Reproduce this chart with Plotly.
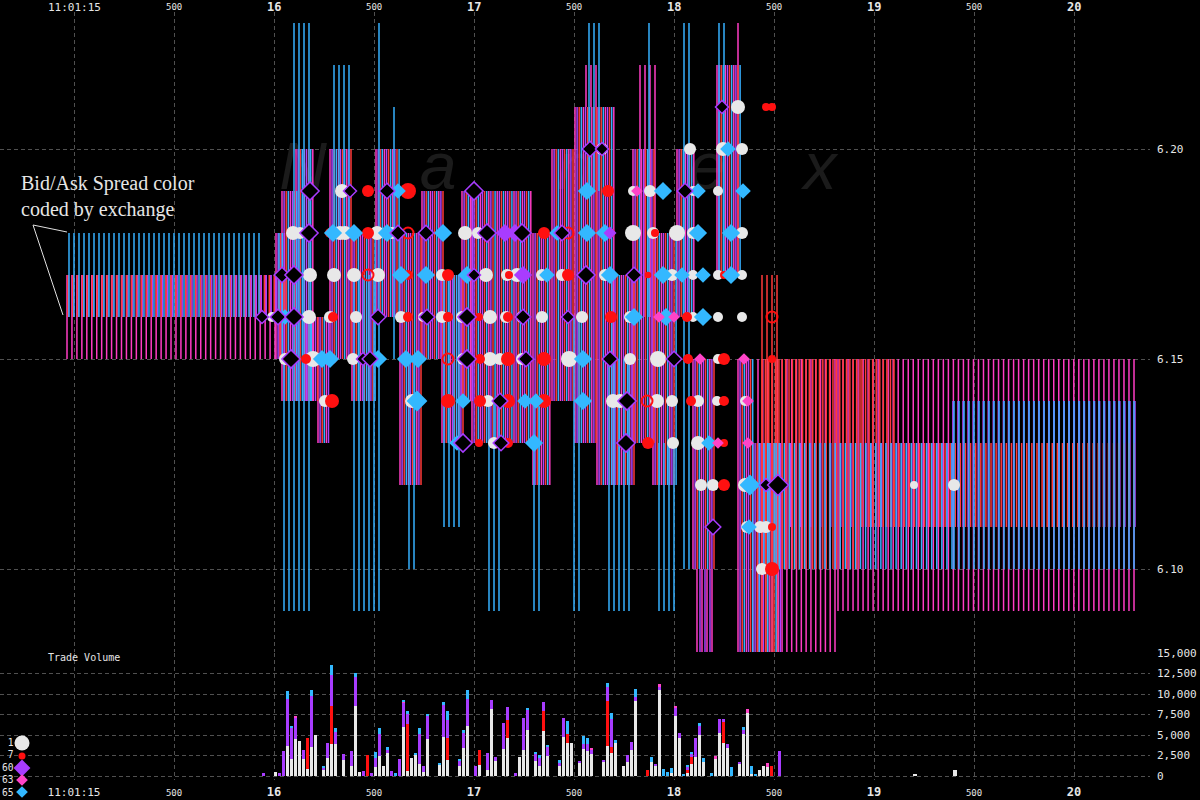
import math
import plotly.graph_objects as go

W, H = 1200, 800
T_MIN, T_MAX = 14.63, 20.38
P_MIN, P_MAX = 6.08024, 6.23262
VOL_MIN, VOL_MAX = -488, 15000

# ---------------- exchanges ----------------
EXCHANGES = [1, 7, 60, 63, 65]
EX_MARK_COLOR = {1: '#e8e8e8', 7: '#ff1010', 60: '#a83cff', 63: '#ff44c8', 65: '#33b8ff'}
EX_LINE_COLOR = {1: '#c8c8c8', 7: '#ff3a3a', 60: '#ac44ff', 63: '#ff3cc4', 65: '#36b0ff'}

# ---------------- regular quote streams (exchange, first/last time, count, bid, ask) ----------------
STREAM_EXCH = [65, 63, 60, 7, 65, 63, 63, 7, 7, 7, 60, 60, 65, 65]
STREAM_T0 = [14.975, 14.965, 14.972, 14.969, 16.025, 18.42, 18.82, 18.44, 18.94, 19.10, 18.43, 19.395, 18.45, 19.40]
STREAM_T1 = [15.925, 16.03, 16.06, 16.05, 16.025, 18.805, 20.30, 18.93, 19.10, 20.30, 19.39, 20.305, 19.39, 20.30]
STREAM_N = [39, 44, 45, 45, 1, 17, 60, 30, 10, 48, 39, 37, 38, 37]
STREAM_BID = [6.16, 6.15, 6.16, 6.16, 6.16, 6.08, 6.09, 6.10, 6.11, 6.11, 6.11, 6.11, 6.10, 6.10]
STREAM_ASK = [6.18, 6.17, 6.17, 6.17, 6.18, 6.15, 6.15, 6.15, 6.15, 6.13, 6.13, 6.14, 6.13, 6.14]

# ---------------- busy quote clusters (time span, low, high) ----------------
CL_T0 = [16.01, 16.04, 16.11, 16.155, 16.22, 16.28, 16.39, 16.51, 16.63, 16.74, 16.84, 16.94, 16.99,
         17.295, 17.39, 17.505, 17.615, 17.695, 17.795, 17.895, 18.015, 18.095, 18.215, 18.32, 18.395]
CL_T1 = [16.05, 16.11, 16.19, 16.22, 16.27, 16.39, 16.51, 16.63, 16.74, 16.84, 16.94, 16.99, 17.28,
         17.38, 17.495, 17.615, 17.695, 17.795, 17.895, 18.015, 18.095, 18.195, 18.33, 18.395, 18.53]
CL_LO = [6.15, 6.14, 6.14, 6.14, 6.13, 6.15, 6.14, 6.16, 6.12, 6.15, 6.13, 6.14, 6.13,
         6.12, 6.14, 6.13, 6.12, 6.12, 6.13, 6.12, 6.16, 6.10, 6.17, 6.08, 6.08]
CL_HI = [6.18, 6.19, 6.20, 6.16, 6.16, 6.20, 6.18, 6.20, 6.18, 6.19, 6.17, 6.19, 6.19,
         6.18, 6.20, 6.21, 6.21, 6.17, 6.20, 6.18, 6.20, 6.15, 6.22, 6.15, 6.13]
CL_CYCLE = [63, 60, 7, 65]

# ---------------- individual long quotes ----------------
TALL_EXCH = [65, 65, 65, 65, 65, 65, 65, 65, 65, 65, 65, 65, 65, 65, 65, 65, 65, 65, 65, 65,
             65, 65, 65, 65, 65, 65, 65, 65, 65, 65, 65, 65, 65, 65, 65, 65, 65, 65, 65, 65,
             65, 65, 65, 65, 65, 65, 65, 63, 63, 63, 63, 63, 63, 63, 63, 7, 7, 7, 7,
             63, 63, 63, 63, 60, 60, 60]
TALL_T = [16.10, 16.125, 16.15, 16.175, 16.05, 16.075, 16.30, 16.325, 16.35, 16.375,
          16.40, 16.425, 16.45, 16.475, 16.50, 16.525, 16.60, 16.675, 16.70, 16.85,
          16.875, 16.90, 16.925, 17.075, 17.10, 17.125, 17.30, 17.325, 17.50, 17.525,
          17.575, 17.60, 17.625, 17.675, 17.70, 17.725, 17.75, 17.775, 17.875, 17.925,
          17.95, 17.975, 18.00, 18.05, 18.075, 18.225, 18.25, 18.32, 17.56, 17.585, 17.61,
          17.83, 17.855, 17.88, 17.905, 18.44, 18.465, 18.49, 18.515,
          18.115, 18.14, 18.165, 18.19, 18.13, 18.155, 18.18]
TALL_LO = [6.09, 6.09, 6.09, 6.09, 6.09, 6.09, 6.18, 6.18, 6.18, 6.18,
           6.09, 6.09, 6.09, 6.09, 6.09, 6.09, 6.15, 6.10, 6.10, 6.11,
           6.11, 6.11, 6.11, 6.09, 6.09, 6.09, 6.09, 6.09, 6.09, 6.09,
           6.19, 6.19, 6.19, 6.09, 6.09, 6.09, 6.09, 6.09, 6.16, 6.09,
           6.09, 6.09, 6.09, 6.10, 6.10, 6.17, 6.17, 6.17, 6.21, 6.21, 6.21,
           6.16, 6.16, 6.16, 6.16, 6.08, 6.08, 6.08, 6.08,
           6.08, 6.08, 6.08, 6.08, 6.08, 6.08, 6.08]
TALL_HI = [6.23, 6.23, 6.23, 6.23, 6.15, 6.15, 6.22, 6.22, 6.22, 6.22,
           6.17, 6.17, 6.17, 6.17, 6.17, 6.23, 6.21, 6.15, 6.15, 6.17,
           6.17, 6.17, 6.17, 6.14, 6.14, 6.14, 6.14, 6.14, 6.16, 6.16,
           6.23, 6.23, 6.23, 6.15, 6.15, 6.15, 6.15, 6.15, 6.23, 6.13,
           6.13, 6.13, 6.13, 6.23, 6.23, 6.23, 6.23, 6.23, 6.22, 6.22, 6.22,
           6.22, 6.22, 6.22, 6.22, 6.17, 6.17, 6.17, 6.17,
           6.10, 6.10, 6.10, 6.10, 6.10, 6.10, 6.10]

# ---------------- trades (time, price, shares) ----------------
EX1_T = [18.32, 17.58, 17.64, 18.08, 18.245, 18.34, 16.34, 17.795, 17.88, 18.095, 18.22,
         16.095, 16.13, 16.33, 16.355, 16.515, 16.59, 16.76, 16.955, 17.02, 17.795, 17.895, 18.015, 18.095, 18.34,
         16.18, 16.30, 16.40, 16.52, 16.84, 17.06, 17.165, 17.215, 17.34, 17.44, 17.655, 17.99, 18.095, 18.22, 18.34,
         15.99, 16.175, 16.28, 16.41, 16.635, 16.745, 16.84, 16.94, 17.08, 17.16, 17.24, 17.34, 17.54, 17.78, 18.095, 18.22, 18.34,
         16.055, 16.195, 16.395, 16.945, 17.08, 17.13, 17.24, 17.475, 17.78, 17.92, 18.22,
         16.255, 16.69, 17.07, 17.695, 17.73, 17.765, 17.915, 17.99, 18.12, 18.215, 18.355,
         17.10, 17.995, 18.12, 18.135, 18.195, 18.355, 19.20, 19.40,
         18.195, 18.365, 18.43, 18.46, 18.44]
EX1_P = [6.21, 6.20, 6.20, 6.20, 6.20, 6.20, 6.19, 6.19, 6.19, 6.19, 6.19,
         6.18, 6.18, 6.18, 6.18, 6.18, 6.18, 6.18, 6.18, 6.18, 6.18, 6.18, 6.18, 6.18, 6.18,
         6.17, 6.17, 6.17, 6.17, 6.17, 6.17, 6.17, 6.17, 6.17, 6.17, 6.17, 6.17, 6.17, 6.17, 6.17,
         6.16, 6.16, 6.16, 6.16, 6.16, 6.16, 6.16, 6.16, 6.16, 6.16, 6.16, 6.16, 6.16, 6.16, 6.16, 6.16, 6.16,
         6.15, 6.15, 6.15, 6.15, 6.15, 6.15, 6.15, 6.15, 6.15, 6.15, 6.15,
         6.14, 6.14, 6.14, 6.14, 6.14, 6.14, 6.14, 6.14, 6.14, 6.14, 6.14,
         6.13, 6.13, 6.13, 6.12, 6.12, 6.12, 6.12, 6.12,
         6.11, 6.11, 6.11, 6.11, 6.10]
EX1_S = [1600, 900, 900, 900, 1600, 900, 1600, 400, 900, 400, 400,
         1600, 900, 1600, 1600, 1600, 900, 900, 1600, 900, 2500, 900, 2500, 900, 900,
         1600, 1600, 1600, 1600, 900, 1600, 900, 1600, 900, 900, 900, 900, 400, 400, 400,
         400, 1600, 900, 900, 900, 400, 900, 900, 1600, 900, 900, 900, 900, 900, 400, 400, 400,
         900, 2500, 900, 900, 1600, 900, 900, 2500, 900, 2500, 400,
         900, 1600, 900, 1600, 1600, 1600, 1600, 900, 900, 400, 400,
         900, 900, 1600, 900, 900, 1600, 100, 900,
         400, 900, 900, 900, 900]

EX7_T = [18.46, 18.49, 16.47, 16.67, 17.67, 16.28, 16.47, 17.35, 17.685, 17.905,
         16.67, 16.87, 17.175, 17.47, 17.87, 18.25,
         16.295, 16.67, 16.87, 17.025, 17.17, 17.685, 18.065,
         16.16, 16.29, 17.03, 17.17, 17.35, 18.07, 18.25, 18.49,
         16.29, 16.87, 17.03, 17.17, 17.35, 18.085, 18.25,
         17.025, 17.17, 17.87, 18.25, 18.25, 18.49, 18.49]
EX7_P = [6.21, 6.21, 6.19, 6.19, 6.19, 6.18, 6.18, 6.18, 6.18, 6.18,
         6.17, 6.17, 6.17, 6.17, 6.17, 6.17,
         6.16, 6.16, 6.16, 6.16, 6.16, 6.16, 6.16,
         6.15, 6.15, 6.15, 6.15, 6.15, 6.15, 6.15, 6.15,
         6.14, 6.14, 6.14, 6.14, 6.14, 6.14, 6.14,
         6.13, 6.13, 6.13, 6.13, 6.12, 6.11, 6.10]
EX7_S = [100, 100, 900, 2500, 900, 400, 900, 900, 100, 100,
         400, 900, 100, 900, 10, 100,
         400, 400, 400, 100, 400, 900, 400,
         400, 400, 400, 1600, 1600, 400, 900, 100,
         1600, 1600, 900, 1600, 1600, 400, 400,
         100, 400, 900, 100, 900, 100, 1600]

EX7H_T = [16.67, 17.47, 16.47, 16.87, 17.865, 18.49]
EX7H_P = [6.18, 6.18, 6.17, 6.15, 6.14, 6.16]

EX65_T = [18.27, 16.62, 17.565, 17.945, 18.12, 18.345,
          16.295, 16.40, 16.565, 16.845, 17.415, 17.565, 17.655, 18.12, 18.285,
          16.635, 16.76, 16.965, 17.365, 17.68, 17.945, 18.04, 18.145, 18.285,
          16.055, 17.80, 17.96, 18.145,
          16.24, 16.28, 16.52, 16.66, 16.72, 17.545,
          16.715, 16.945, 17.255, 17.31, 17.545,
          16.915, 17.30, 18.175, 18.38, 18.375]
EX65_P = [6.20, 6.19, 6.19, 6.19, 6.19, 6.19,
          6.18, 6.18, 6.18, 6.18, 6.18, 6.18, 6.18, 6.18, 6.18,
          6.17, 6.17, 6.17, 6.17, 6.17, 6.17, 6.17, 6.17, 6.17,
          6.16, 6.16, 6.16, 6.16,
          6.15, 6.15, 6.15, 6.15, 6.15, 6.15,
          6.14, 6.14, 6.14, 6.14, 6.14,
          6.13, 6.13, 6.13, 6.12, 6.11]
EX65_S = [400, 400, 900, 900, 400, 400,
          900, 900, 900, 900, 400, 900, 900, 900, 900,
          900, 900, 900, 400, 900, 900, 400, 400, 900,
          400, 900, 900, 900,
          900, 900, 900, 900, 900, 900,
          1600, 400, 400, 400, 900,
          400, 900, 400, 1600, 400]

EX63_T = [17.815, 17.925, 18.00, 18.13, 18.35, 18.37, 18.22, 18.37]
EX63_P = [6.19, 6.16, 6.16, 6.15, 6.15, 6.14, 6.13, 6.13]

EX60_T = [17.155, 17.205, 17.68, 17.245]
EX60_P = [6.18, 6.18, 6.18, 6.17]
EX60_S = [900, 900, 100, 900]

EX60D_T = [16.18, 16.38, 16.565, 17.00, 18.055, 18.24,
           16.175, 16.76, 17.065, 17.24, 17.44, 16.62,
           16.04, 16.10, 17.00, 17.80, 17.56,
           15.94, 16.02, 16.10, 16.52, 16.765, 16.965, 17.245, 17.47,
           16.085, 16.445, 16.48, 16.965, 17.26, 17.68, 18.00,
           17.13, 17.765, 16.945, 17.135, 17.76,
           18.46, 18.52, 18.195, 17.58, 17.64]
EX60D_P = [6.19, 6.19, 6.19, 6.19, 6.19, 6.21,
           6.18, 6.18, 6.18, 6.18, 6.18, 6.18,
           6.17, 6.17, 6.17, 6.17, 6.17,
           6.16, 6.16, 6.16, 6.16, 6.16, 6.16, 6.16, 6.16,
           6.15, 6.15, 6.15, 6.15, 6.15, 6.15, 6.15,
           6.14, 6.14, 6.13, 6.13, 6.13,
           6.12, 6.12, 6.11, 6.20, 6.20]
EX60D_S = [900, 100, 400, 900, 400, 100,
           900, 400, 900, 900, 400, 400,
           400, 900, 100, 400, 900,
           100, 400, 900, 400, 400, 900, 400, 100,
           900, 100, 400, 900, 400, 400, 400,
           400, 900, 900, 400, 900,
           100, 1600, 400, 400, 100]

# ---------------- trade volume per 20 ms bucket ----------------
VOL_T = [15.947, 16.007, 16.027, 16.047, 16.067, 16.087, 16.107, 16.127, 16.147, 16.167, 16.187, 16.207,
         16.247, 16.267, 16.287, 16.307, 16.347, 16.387, 16.407, 16.427, 16.447, 16.467, 16.487, 16.507,
         16.527, 16.547, 16.567, 16.587, 16.607, 16.627, 16.647, 16.667, 16.687, 16.707, 16.727, 16.747,
         16.767, 16.827, 16.847, 16.867, 16.927, 16.947, 16.967, 17.007, 17.027, 17.067, 17.087, 17.107,
         17.147, 17.167, 17.207, 17.227, 17.247, 17.267, 17.307, 17.327, 17.347, 17.367, 17.427, 17.447,
         17.467, 17.487, 17.527, 17.547, 17.567, 17.587, 17.647, 17.667, 17.687, 17.707, 17.747, 17.767,
         17.787, 17.807, 17.867, 17.887, 17.907, 17.927, 17.947, 17.967, 17.987, 18.007, 18.027, 18.047,
         18.067, 18.087, 18.107, 18.127, 18.147, 18.187, 18.207, 18.227, 18.247, 18.267, 18.287, 18.327,
         18.347, 18.367, 18.387, 18.407, 18.427, 18.447, 18.467, 18.487, 18.527, 19.205, 19.405]
VOL_1 = [0, 440, 0, 0, 3670, 2110, 4510, 4270, 2110, 800, 3550, 4990,
         800, 2230, 3910, 3910, 2000, 1160, 8580, 440, 0, 0, 100, 1040,
         2470, 1160, 2830, 0, 100, 0, 5950, 560, 2230, 2590, 1520, 440,
         4510, 1400, 4750, 2000, 1160, 3430, 6070, 0, 1400, 680, 8220, 1880,
         3310, 4630, 0, 2350, 3190, 5590, 1880, 1280, 5470, 2470, 1160, 4750,
         4030, 4030, 1640, 3310, 3070, 2710, 1760, 3670, 2830, 4030, 1160, 1760,
         3190, 9180, 0, 1760, 1160, 10490, 0, 0, 320, 7260, 4630, 0,
         320, 1520, 2350, 4990, 1760, 0, 2110, 5230, 4030, 3430, 0, 1520,
         5110, 7740, 200, 0, 680, 1160, 1040, 0, 0, 200, 700]
VOL_7 = [0, 0, 0, 0, 0, 0, 0, 0, 0, 3830, 0, 0,
         0, 0, 4670, 0, 0, 0, 0, 0, 0, 2590, 0, 0,
         0, 0, 0, 0, 0, 0, 0, 5740, 0, 0, 0, 0,
         0, 0, 0, 2630, 0, 0, 0, 0, 1790, 0, 0, 0,
         0, 2150, 0, 0, 0, 0, 0, 0, 2510, 0, 0, 0,
         1080, 0, 0, 0, 0, 0, 0, 5510, 720, 0, 0, 0,
         0, 0, 680, 0, 0, 0, 0, 0, 0, 0, 0, 0,
         360, 830, 0, 0, 0, 0, 0, 0, 2510, 0, 0, 0,
         0, 0, 0, 0, 0, 0, 0, 1280, 0, 0, 0]
VOL_60 = [320, 0, 320, 3070, 5750, 3750, 2670, 0, 1080, 0, 6230, 0,
          240, 1800, 3710, 1440, 710, 1910, 3470, 0, 560, 0, 220, 1190,
          2640, 0, 360, 560, 0, 2110, 2990, 1320, 0, 0, 3590, 720,
          2750, 0, 3950, 2150, 720, 1800, 3350, 1160, 0, 2150, 1080, 470,
          3110, 1680, 320, 0, 3830, 2510, 830, 950, 1080, 1080, 480, 2270,
          0, 0, 120, 600, 840, 480, 120, 1670, 3350, 0, 0, 830,
          960, 480, 0, 0, 360, 480, 0, 0, 0, 1080, 600, 0,
          480, 360, 2280, 1080, 0, 100, 0, 1670, 360, 480, 0, 240,
          600, 0, 0, 0, 0, 0, 0, 0, 3070, 0, 0]
VOL_63 = [0, 0, 0, 0, 0, 0, 120, 0, 0, 0, 0, 0,
          0, 0, 0, 0, 0, 0, 0, 0, 0, 0, 0, 0,
          0, 0, 0, 0, 0, 0, 120, 0, 0, 0, 0, 0,
          0, 0, 0, 0, 0, 0, 0, 0, 0, 0, 0, 0,
          0, 0, 0, 0, 0, 0, 0, 0, 0, 0, 0, 0,
          0, 0, 0, 0, 0, 240, 0, 0, 0, 0, 0, 0,
          0, 0, 0, 0, 0, 240, 0, 0, 0, 240, 0, 0,
          0, 0, 0, 0, 0, 0, 360, 0, 0, 0, 0, 0,
          0, 480, 0, 0, 0, 0, 600, 0, 0, 0, 0]
VOL_65 = [0, 0, 0, 0, 950, 240, 0, 0, 0, 0, 710, 0,
          120, 0, 1200, 480, 0, 0, 480, 0, 0, 0, 0, 720,
          720, 0, 360, 0, 220, 0, 240, 360, 0, 120, 720, 0,
          360, 240, 360, 1200, 230, 360, 1070, 0, 0, 0, 0, 0,
          0, 0, 0, 0, 0, 240, 120, 360, 0, 120, 360, 0,
          1550, 0, 0, 960, 720, 0, 0, 480, 840, 360, 0, 0,
          0, 950, 0, 590, 0, 0, 800, 440, 600, 0, 0, 200,
          120, 120, 0, 350, 470, 220, 0, 0, 0, 0, 1040, 0,
          240, 0, 960, 200, 0, 0, 0, 0, 0, 0, 0]

# ---------------- axis labels ----------------
X_TICKS = [15.0, 15.5, 16.0, 16.5, 17.0, 17.5, 18.0, 18.5, 19.0, 19.5, 20.0]
X_TICK_TEXT = ["11:01:15", "500", "16", "500", "17", "500", "18", "500", "19", "500", "20"]
P_TICKS = [6.10, 6.15, 6.20]
V_TICKS = [0, 2500, 5000, 7500, 10000, 12500, 15000]

WM_TEXT = ["N", "a", "n", "e", "x"]
WM_T = [16.145, 16.82, 17.505, 18.165, 18.73]
WM_P = [6.1945, 6.1945, 6.1945, 6.1945, 6.1945]

LEGEND_LABELS = ["1", "7", "60", "63", "65"]

# ======================================================================
MONO = "DejaVu Sans Mono"
TXT = "#e6e6e6"
GRID = "#505050"


def px_x(px):
    return px / W


def px_y(py):
    return 1 - py / H


def msize(shares):
    return 6 + 2 * math.sqrt(max(shares, 0) / 100.0)


fig = go.Figure()

# watermark (beneath everything)
fig.add_trace(go.Scatter(x=WM_T, y=WM_P, mode="text", text=WM_TEXT,
                         textfont=dict(family="Liberation Sans", size=66, color="#1b1b1b", style="italic"),
                         hoverinfo="skip", showlegend=False, xaxis="x", yaxis="y"))

# quote lines
seg = {e: ([], []) for e in EXCHANGES}


def add_seg(e, t, lo, hi):
    xs, ys = seg[e]
    xs += [t, t, None]
    ys += [lo, hi, None]


for e, t0, t1, n, b, a in zip(STREAM_EXCH, STREAM_T0, STREAM_T1, STREAM_N, STREAM_BID, STREAM_ASK):
    for k in range(n):
        t = t0 if n == 1 else t0 + (t1 - t0) * k / (n - 1)
        add_seg(e, t, b, a)

STEP = 0.0105
for t0, t1, lo, hi in zip(CL_T0, CL_T1, CL_LO, CL_HI):
    n = int(round((t1 - t0) / STEP)) + 1
    for k in range(n):
        add_seg(CL_CYCLE[k % 4], t0 + k * STEP, lo, hi)

for e, t, lo, hi in zip(TALL_EXCH, TALL_T, TALL_LO, TALL_HI):
    add_seg(e, t, lo, hi)

for e in [63, 60, 7, 65]:
    xs, ys = seg[e]
    fig.add_trace(go.Scatter(x=xs, y=ys, mode="lines", line=dict(color=EX_LINE_COLOR[e], width=1.5),
                             hoverinfo="skip", showlegend=False, xaxis="x", yaxis="y"))


# trades
def add_markers(ts, ps, sizes, symbol, color, lcolor=None, lwidth=0, xa="x", ya="y"):
    fig.add_trace(go.Scatter(x=ts, y=ps, mode="markers",
                             marker=dict(symbol=symbol, size=sizes, color=color, opacity=1,
                                         line=dict(color=lcolor or color, width=lwidth)),
                             hoverinfo="skip", showlegend=False, xaxis=xa, yaxis=ya))


add_markers(EX1_T, EX1_P, [msize(s) for s in EX1_S], "circle", EX_MARK_COLOR[1])
add_markers(EX7_T, EX7_P, [msize(s) for s in EX7_S], "circle", EX_MARK_COLOR[7])
add_markers(EX7H_T, EX7H_P, 11, "circle-open", EX_MARK_COLOR[7], EX_MARK_COLOR[7], 2)
add_markers(EX65_T, EX65_P, [msize(s) + 2 for s in EX65_S], "diamond", EX_MARK_COLOR[65])
add_markers(EX63_T, EX63_P, 9, "diamond", EX_MARK_COLOR[63])
add_markers(EX60_T, EX60_P, [msize(s) + 2 for s in EX60_S], "diamond", EX_MARK_COLOR[60])
add_markers(EX60D_T, EX60D_P, [msize(s) + 2 for s in EX60D_S], "diamond", "#000000", EX_MARK_COLOR[60], 1.5)

# volume bars (stacked by exchange)
for e, vals in zip(EXCHANGES, [VOL_1, VOL_7, VOL_60, VOL_63, VOL_65]):
    fig.add_trace(go.Bar(x=VOL_T, y=vals, width=0.0155, marker=dict(color=EX_MARK_COLOR[e], line=dict(width=0)),
                         hoverinfo="skip", showlegend=False, xaxis="x2", yaxis="y2"))

# exchange key symbols (figure-pixel overlay axis)
KEY_SYMBOLS = ["circle", "circle", "diamond", "diamond", "diamond"]
KEY_SIZES = [15, 7, 13, 9, 9]
key_rows = [743, 756, 768, 780, 792]
fig.add_trace(go.Scatter(x=[22] * 5, y=key_rows, mode="markers",
                         marker=dict(symbol=KEY_SYMBOLS, size=KEY_SIZES, opacity=1,
                                     color=[EX_MARK_COLOR[e] for e in EXCHANGES], line=dict(width=0)),
                         hoverinfo="skip", showlegend=False, xaxis="x3", yaxis="y3"))


def xtick_html(s):
    if s == "500":
        return "<span style='font-size:9px'>500</span>"
    if ":" in s:
        return s
    return "<b><span style='font-size:12px'>" + s + "</span></b>"


x_ticktext = [xtick_html(s) for s in X_TICK_TEXT]

axis_common = dict(showgrid=True, gridcolor=GRID, griddash="4px,3px", gridwidth=1, zeroline=False,
                   showline=False, ticks="", tickfont=dict(family=MONO, size=11, color=TXT), automargin=False)

x_dom = [0, 1150 / W]
fig.update_layout(
    width=W, height=H,
    margin=dict(l=0, r=0, t=0, b=0),
    paper_bgcolor="#000000", plot_bgcolor="rgba(0,0,0,0)",
    barmode="stack", bargap=0,
    showlegend=False,
    xaxis=dict(domain=x_dom, range=[T_MIN, T_MAX], side="top", anchor="y",
               tickmode="array", tickvals=X_TICKS, showticklabels=False, **axis_common),
    yaxis=dict(domain=[px_y(652), px_y(12)], range=[P_MIN, P_MAX], side="right", anchor="x",
               tickmode="array", tickvals=P_TICKS, ticktext=["%.2f" % p for p in P_TICKS],
               ticklabelstandoff=6, **axis_common),
    xaxis2=dict(domain=x_dom, range=[T_MIN, T_MAX], side="bottom", anchor="y2", matches="x",
                tickmode="array", tickvals=X_TICKS, ticktext=x_ticktext, ticklabelstandoff=4, **axis_common),
    yaxis2=dict(domain=[px_y(780), px_y(653)], range=[VOL_MIN, VOL_MAX], side="right", anchor="x2",
                tickmode="array", tickvals=V_TICKS, ticktext=["{:,}".format(v) for v in V_TICKS],
                ticklabelstandoff=6, **axis_common),
    xaxis3=dict(domain=[0, 1], range=[0, W], anchor="y3", visible=False, fixedrange=True, showgrid=False),
    yaxis3=dict(domain=[0, 1], range=[H, 0], anchor="x3", visible=False, fixedrange=True, showgrid=False),
)

annotations = [
    dict(text="Bid/Ask Spread color<br>coded by exchange", x=px_x(19), y=px_y(197), xref="paper", yref="paper",
         xanchor="left", yanchor="middle", align="left", showarrow=False,
         font=dict(family="Liberation Serif", size=20, color=TXT)),
    dict(text="Trade Volume", x=px_x(46), y=px_y(657), xref="paper", yref="paper", xanchor="left",
         yanchor="middle", showarrow=False, font=dict(family=MONO, size=10, color=TXT)),
    dict(text="<br>".join(LEGEND_LABELS), x=px_x(15), y=px_y(767.5), xref="paper", yref="paper",
         xanchor="right", yanchor="middle", align="right", showarrow=False, borderpad=0,
         font=dict(family=MONO, size=9.6, color=TXT)),
]

# top time labels
for tv, s in zip(X_TICKS, x_ticktext):
    annotations.append(dict(text=s, x=tv, y=px_y(7), xref="x", yref="paper", xanchor="center",
                            yanchor="middle", showarrow=False, borderpad=0,
                            font=dict(family=MONO, size=11, color=TXT)))
fig.update_layout(annotations=annotations)

shapes = [
    dict(type="line", xref="paper", yref="paper", x0=px_x(33), y0=px_y(225), x1=px_x(67), y1=px_y(232),
         line=dict(color="#e0e0e0", width=1)),
    dict(type="line", xref="paper", yref="paper", x0=px_x(33), y0=px_y(225), x1=px_x(63), y1=px_y(315),
         line=dict(color="#e0e0e0", width=1)),
]
fig.update_layout(shapes=shapes)

fig.write_html("out.html")
